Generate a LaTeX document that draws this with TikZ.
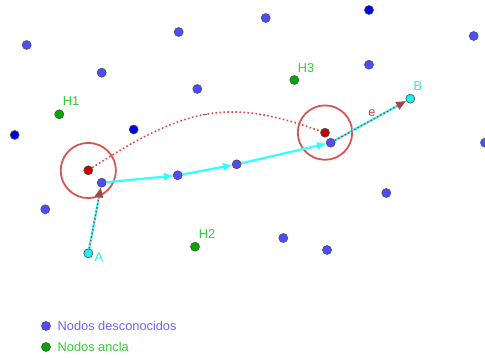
\documentclass[tikz,border=0pt]{standalone}
\usepackage{fontspec}
\setmainfont{Liberation Sans}
\usetikzlibrary{arrows.meta}
\definecolor{nblue}{HTML}{4D4DFF}
\definecolor{dblue}{HTML}{0000E6}
\definecolor{agreen}{HTML}{00AA00}
\definecolor{lgreen}{HTML}{33CC33}
\definecolor{tblue}{HTML}{6666FF}
\definecolor{rpt}{HTML}{CC0000}
\definecolor{rcirc}{HTML}{D85555}
\definecolor{rdot}{HTML}{E04848}
\definecolor{darrow}{HTML}{A04848}
\definecolor{cyanl}{HTML}{33FFFF}
\definecolor{cyanp}{HTML}{22EEEE}
\begin{document}
\begin{tikzpicture}[x=1pt,y=-1pt,
  pt/.style={circle,inner sep=0pt,minimum size=9pt,draw=black!70,line width=0.6pt},
  unk/.style={pt,fill=nblue},
  dk/.style={pt,fill=dblue},
  anc/.style={pt,fill=agreen},
  refp/.style={pt,fill=cyanp},
  redp/.style={pt,fill=rpt},
  lbl/.style={inner sep=0pt,font=\fontsize{12.8}{14}\selectfont},
  rangecirc/.style={draw=rcirc,line width=1.8pt},
  cyanvec/.style={draw=cyanl,line width=2.2pt,-{Triangle[length=9pt,width=7pt]}},
  cyanseg/.style={draw=cyanl,line width=2.2pt,-{Triangle[length=10pt,width=8pt,color=darrow]}},
  reddots/.style={draw=rdot,line width=1.6pt,dash pattern=on 1.6pt off 2.4pt},
  darkdots/.style={draw=darrow,line width=1.4pt,dash pattern=on 1.5pt off 2.2pt,shorten >=9pt}
]
\useasboundingbox (0,0) rectangle (485,358);

% range circles
\draw[rangecirc] (88.3,170.5) circle (27.6pt);
\draw[rangecirc] (325,132.6) circle (27.2pt);

% red points
\node[redp] (r1) at (88.3,170.3) {};
\node[redp] (r2) at (325,132.7) {};

% dotted arc between estimates
\draw[reddots] (r1) .. controls (190,104) and (232,99.5) .. (r2);
\node[inner sep=0pt,minimum width=4pt,minimum height=1.8pt,fill=black!60] (mk) at (205,114.6) {};

% unknown nodes
\node[unk] (u1) at (26.7,45) {};
\node[unk] (u2) at (101.7,72.7) {};
\node[unk] (u3) at (178.7,32) {};
\node[unk] (u4) at (265.7,18) {};
\node[unk] (u5) at (197.3,89) {};
\node[unk] (u6) at (369,64.7) {};
\node[unk] (u7) at (473.7,36) {};
\node[unk] (u8) at (485,142.7) {};
\node[unk] (u9) at (386.3,193) {};
\node[unk] (u10) at (283.3,238) {};
\node[unk] (u11) at (327,250) {};
\node[unk] (u12) at (45.3,209.3) {};
\node[unk] (p1) at (101.7,182.7) {};
\node[unk] (p2) at (177.7,175.3) {};
\node[unk] (p3) at (236.7,164.3) {};
\node[unk] (p4) at (330.7,142.7) {};
\node[dk] (d1) at (369,10) {};
\node[dk] (d2) at (133.7,129.5) {};
\node[dk] (d3) at (14.7,135) {};

% anchors
\node[anc] (h1) at (59.3,114.3) {};
\node[anc] (h2) at (195,246.7) {};
\node[anc] (h3) at (294.3,80) {};
\node[lbl,text=lgreen] (h1l) at (71,101) {H1};
\node[lbl,text=lgreen] (h2l) at (207,234) {H2};
\node[lbl,text=lgreen] (h3l) at (306,68) {H3};

% source and target
\node[refp] (A) at (88.3,253.3) {};
\node[refp] (B) at (410.3,98.7) {};
\node[lbl,text=cyanp] (Al) at (99,257.5) {A};
\node[lbl,text=cyanp] (Bl) at (418,86) {B};
\node[lbl,text=rdot] (el) at (372,113) {e};

% path
\draw[cyanseg] (A) -- (p1);
\draw[darkdots] (A) -- (p1);
\draw[cyanvec] (p1) -- (p2);
\draw[cyanvec] (p2) -- (p3);
\draw[cyanvec] (p3) -- (p4);
\draw[cyanseg] (p4) -- (B);
\draw[darkdots] (p4) -- (B);

% legend
\node[unk] (lg1) at (46,326) {};
\node[anc] (lg2) at (46,347) {};
\node[lbl,text=tblue,anchor=west] (lt1) at (57.5,326) {Nodos desconocidos};
\node[lbl,text=lgreen,anchor=west] (lt2) at (57.5,347) {Nodos ancla};
\end{tikzpicture}
\end{document}
